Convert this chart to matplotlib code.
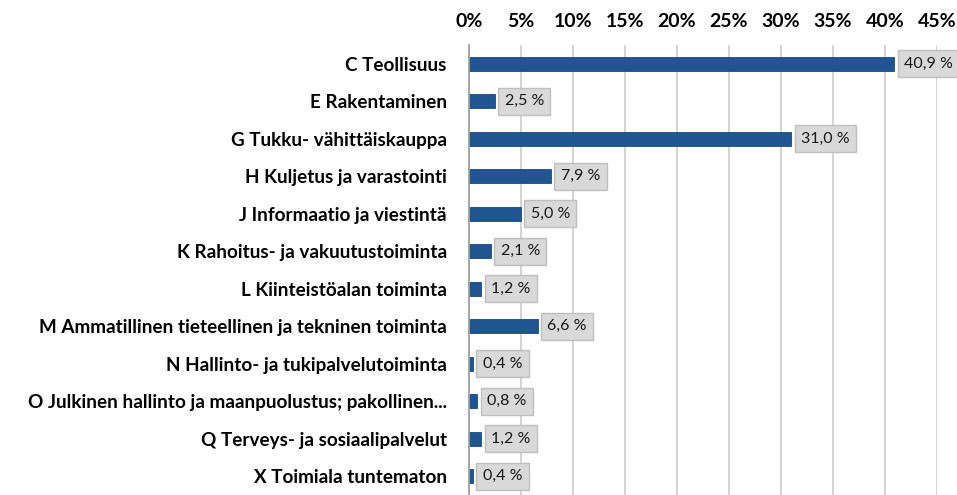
import matplotlib
matplotlib.use("Agg")
import matplotlib.pyplot as plt
from matplotlib.ticker import MultipleLocator, FuncFormatter

categories = [
    "C Teollisuus",
    "E Rakentaminen",
    "G Tukku- vähittäiskauppa",
    "H Kuljetus ja varastointi",
    "J Informaatio ja viestintä",
    "K Rahoitus- ja vakuutustoiminta",
    "L Kiinteistöalan toiminta",
    "M Ammatillinen tieteellinen ja tekninen toiminta",
    "N Hallinto- ja tukipalvelutoiminta",
    "O Julkinen hallinto ja maanpuolustus; pakollinen...",
    "Q Terveys- ja sosiaalipalvelut",
    "X Toimiala tuntematon",
]
values = [40.9, 2.5, 31.0, 7.9, 5.0, 2.1, 1.2, 6.6, 0.4, 0.8, 1.2, 0.4]

plt.rcParams['font.family'] = ['Lato', 'DejaVu Sans']

fig = plt.figure(figsize=(9.57, 4.95), dpi=100)
ax = fig.add_axes([469/957, 0.0, (937-469)/957, (495-45)/495])

y = list(range(len(categories)))
ax.barh(y, values, height=0.38, color="#1F5590", edgecolor="#174a80", linewidth=0.6, zorder=3)
ax.set_ylim(len(categories) - 0.5, -0.5)
ax.set_xlim(0, 45)
ax.xaxis.set_major_locator(MultipleLocator(5))
ax.xaxis.set_major_formatter(FuncFormatter(lambda v, p: f"{int(round(v))}%"))
ax.xaxis.tick_top()
ax.tick_params(axis='x', length=0, pad=11, labelsize=14)
for lab in ax.get_xticklabels():
    lab.set_fontweight('bold')
ax.set_yticks(y)
ax.set_yticklabels(categories, fontsize=13.6, fontweight='bold')
ax.tick_params(axis='y', length=0, pad=16)
ax.grid(axis='x', color="#D0D0D0", linewidth=1.3, zorder=0)
for s in ['top', 'right', 'bottom']:
    ax.spines[s].set_visible(False)
ax.spines['left'].set_color("#A0A0A0")
ax.spines['left'].set_linewidth(1.3)
ax.spines['left'].set_zorder(4)

for yi, v in zip(y, values):
    label = f"{v:.1f}".replace('.', ',') + " %"
    ax.annotate(label, xy=(v, yi), xytext=(7, 0), textcoords='offset points',
                va='center', ha='left', fontsize=11.5, color="#1a1a1a",
                bbox=dict(boxstyle='square,pad=0.4', facecolor="#D9D9D9", edgecolor="#BFBFBF", linewidth=1),
                annotation_clip=False, zorder=5)

fig.savefig("out.png", dpi=100)
